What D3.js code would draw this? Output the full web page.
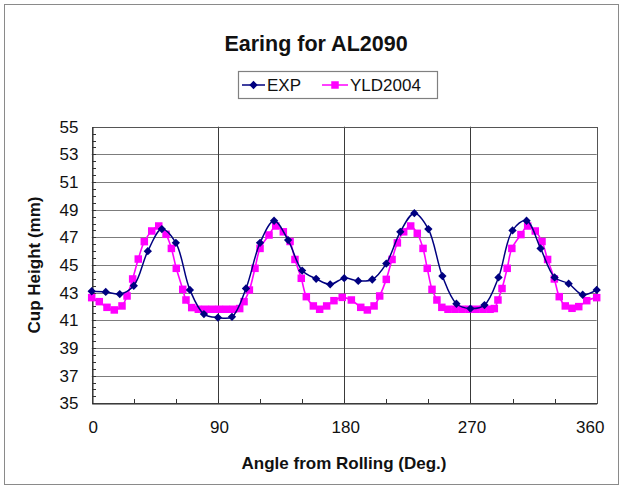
<!DOCTYPE html>
<html><head><meta charset="utf-8">
<script src="https://cdn.jsdelivr.net/npm/d3@7"></script>
<style>body{margin:0;background:#fff}svg{display:block}text{font-family:"Liberation Sans",Arial,sans-serif}</style>
</head><body><svg id="c" width="624" height="491"></svg>
<script>
const title = "Earing for AL2090";
const xTitle = "Angle from Rolling (Deg.)";
const yTitle = "Cup Height (mm)";
const seriesNames = ["EXP", "YLD2004"];
const xTicks = [0, 90, 180, 270, 360];
const yTicks = [35, 37, 39, 41, 43, 45, 47, 49, 51, 53, 55];

const expAngles = [0,10,20,30,40,50,60,70,80,90,100,110,120,130,140,150,160,170,180,190,200,210,220,230,240,250,260,270,280,290,300,310,320,330,340,350,360];
const expValues = [43.1,43.05,42.9,43.5,46.0,47.6,46.6,43.2,41.45,41.2,41.25,43.3,46.6,48.2,46.8,44.6,44.0,43.6,44.05,43.85,43.95,45.1,47.4,48.75,47.6,44.2,42.2,41.85,42.1,44.1,47.5,48.2,46.2,44.1,43.65,42.85,43.2];

const yldAngles = [0,5.4,10.9,16.1,21.6,25.2,29.2,33.2,37.5,42.8,47.8,53,56.8,60.3,64.9,67.2,71.3,76,81,86,91,96,101,105.5,108.6,112.4,116.4,120,126.4,131.2,136.6,141.4,144.9,149.4,153,158,162.5,167.5,172.7,178.6,
  185.1,191.8,196.5,201.3,205.3,210,214.1,217.9,222.4,227.4,232.1,236.2,239.2,242.6,246.1,249.6,254,259,264,269,274,279,284,287,289.6,292.5,296.2,299.5,306,310.8,316.2,321,325,329.8,333.3,337.6,342.4,347.2,352.9,360];
const yldValues = [42.64,42.35,41.94,41.75,42.04,42.76,43.99,45.43,46.69,47.46,47.82,47.22,46.2,44.76,43.24,42.47,41.92,41.8,41.8,41.8,41.8,41.8,41.8,41.85,42.35,43.19,44.76,46.2,47.17,47.82,47.4,46.7,45.4,44.04,42.71,42.04,41.8,42.04,42.42,42.66,
  42.47,41.94,41.75,42.04,42.76,43.96,45.4,46.6,47.4,47.82,47.29,46.2,44.76,43.24,42.47,41.94,41.8,41.8,41.8,41.8,41.8,41.8,41.8,41.85,42.47,43.3,44.76,46.2,47.2,47.82,47.46,46.7,45.4,43.99,42.71,42.04,41.87,41.99,42.42,42.64];

const svg = d3.select("#c");
const L = 91.7, R = 596.7, T = 126.7, B = 403.3;
const x = d3.scaleLinear().domain([0, 360]).range([L, R]);
const y = d3.scaleLinear().domain([35, 55]).range([B, T]);

// outer border
svg.append("rect").attr("x", 4.5).attr("y", 4.5).attr("width", 614).attr("height", 480)
  .attr("fill", "#fff").attr("stroke", "#8a8a8a").attr("stroke-width", 1);

// title
svg.append("text").attr("x", 316).attr("y", 51).attr("text-anchor", "middle")
  .attr("font-size", 21.5).attr("font-weight", "bold").attr("fill", "#111").text(title);

// horizontal gridlines
svg.append("g").selectAll("line").data(yTicks.slice(1, -1)).join("line")
  .attr("x1", L).attr("x2", R).attr("y1", d => Math.round(y(d)) + 0.5).attr("y2", d => Math.round(y(d)) + 0.5)
  .attr("stroke", "#7c7c7c").attr("stroke-width", 1);
// vertical gridlines
svg.append("g").selectAll("line").data(xTicks.slice(1, -1)).join("line")
  .attr("y1", T).attr("y2", B).attr("x1", d => Math.round(x(d)) + 0.5).attr("x2", d => Math.round(x(d)) + 0.5)
  .attr("stroke", "#3a3a3a").attr("stroke-width", 1);

// plot frame
svg.append("rect").attr("x", Math.round(L) + 0.5).attr("y", Math.round(T) + 0.5)
  .attr("width", Math.round(R) - Math.round(L)).attr("height", Math.round(B) - Math.round(T))
  .attr("fill", "none").attr("stroke", "#555").attr("stroke-width", 1);

// axes
const xAxis = d3.axisBottom(x).tickValues(xTicks).tickSize(0).tickPadding(17);
const gx = svg.append("g").attr("transform", `translate(0,${Math.round(B) + 0.5})`).call(xAxis);
gx.select(".domain").attr("stroke", "#222");
gx.selectAll("text").attr("font-size", 17).attr("fill", "#111").attr("font-family", '"Liberation Sans",Arial,sans-serif')
  .attr("dx", d => d === 360 ? -7 : 1);

const yAxis = d3.axisLeft(y).tickValues(yTicks).tickSize(0).tickPadding(14);
const gy = svg.append("g").attr("transform", `translate(${Math.round(L) + 0.5},0)`).call(yAxis);
gy.select(".domain").attr("stroke", "#222");
gy.selectAll("text").attr("font-size", 17).attr("fill", "#111").attr("font-family", '"Liberation Sans",Arial,sans-serif');

// minor ticks (inside)
const xMinor = d3.range(30, 360, 30);
svg.append("g").selectAll("line").data(xMinor).join("line")
  .attr("x1", d => Math.round(x(d)) + 0.5).attr("x2", d => Math.round(x(d)) + 0.5)
  .attr("y1", Math.round(B)).attr("y2", Math.round(B) - 4).attr("stroke", "#333");
const yMinor = d3.range(35.5, 55, 0.5);
svg.append("g").selectAll("line").data(yMinor).join("line")
  .attr("y1", d => Math.round(y(d)) + 0.5).attr("y2", d => Math.round(y(d)) + 0.5)
  .attr("x1", Math.round(L)).attr("x2", Math.round(L) + 4).attr("stroke", "#333");

// axis titles
svg.append("text").attr("x", 344).attr("y", 469).attr("text-anchor", "middle")
  .attr("font-size", 17).attr("font-weight", "bold").attr("fill", "#111").text(xTitle);
svg.append("text").attr("transform", `translate(40,${(T + B) / 2}) rotate(-90)`).attr("text-anchor", "middle")
  .attr("font-size", 17).attr("font-weight", "bold").attr("fill", "#111").text(yTitle);

// series
const expData = expAngles.map((a, i) => [a, expValues[i]]);
const yldData = yldAngles.map((a, i) => [a, yldValues[i]]);
const line = d3.line().x(d => x(d[0])).y(d => y(d[1])).curve(d3.curveCatmullRom.alpha(0.5));

const gY = svg.append("g");
gY.append("path").datum(yldData).attr("d", line).attr("fill", "none").attr("stroke", "#ff00ff").attr("stroke-width", 1.6);
gY.selectAll("rect").data(yldData).join("rect")
  .attr("x", d => x(d[0]) - 3.75).attr("y", d => y(d[1]) - 3.75).attr("width", 7.5).attr("height", 7.5).attr("fill", "#ff00ff");

const gE = svg.append("g");
gE.append("path").datum(expData).attr("d", line).attr("fill", "none").attr("stroke", "#000080").attr("stroke-width", 1.5);
const diamond = d3.symbol().type(d3.symbolDiamond2).size(44);
gE.selectAll("path.m").data(expData).join("path").attr("class", "m")
  .attr("transform", d => `translate(${x(d[0])},${y(d[1])})`).attr("d", diamond).attr("fill", "#000080");

// legend
const lg = svg.append("g");
lg.append("rect").attr("x", 238.5).attr("y", 71.5).attr("width", 199).attr("height", 27)
  .attr("fill", "#fff").attr("stroke", "#808080").attr("stroke-width", 1.2);
lg.append("line").attr("x1", 242).attr("x2", 265).attr("y1", 85).attr("y2", 85).attr("stroke", "#000080").attr("stroke-width", 1.5);
lg.append("path").attr("transform", "translate(253.5,85)").attr("d", diamond).attr("fill", "#000080");
lg.append("text").attr("x", 267).attr("y", 91).attr("font-size", 17).attr("fill", "#111").text(seriesNames[0]);
lg.append("line").attr("x1", 322).attr("x2", 348).attr("y1", 85).attr("y2", 85).attr("stroke", "#ff00ff").attr("stroke-width", 1.5);
lg.append("rect").attr("x", 331.25).attr("y", 81.25).attr("width", 7.5).attr("height", 7.5).attr("fill", "#ff00ff");
lg.append("text").attr("x", 350).attr("y", 91).attr("font-size", 17).attr("fill", "#111").text(seriesNames[1]);
</script></body></html>
